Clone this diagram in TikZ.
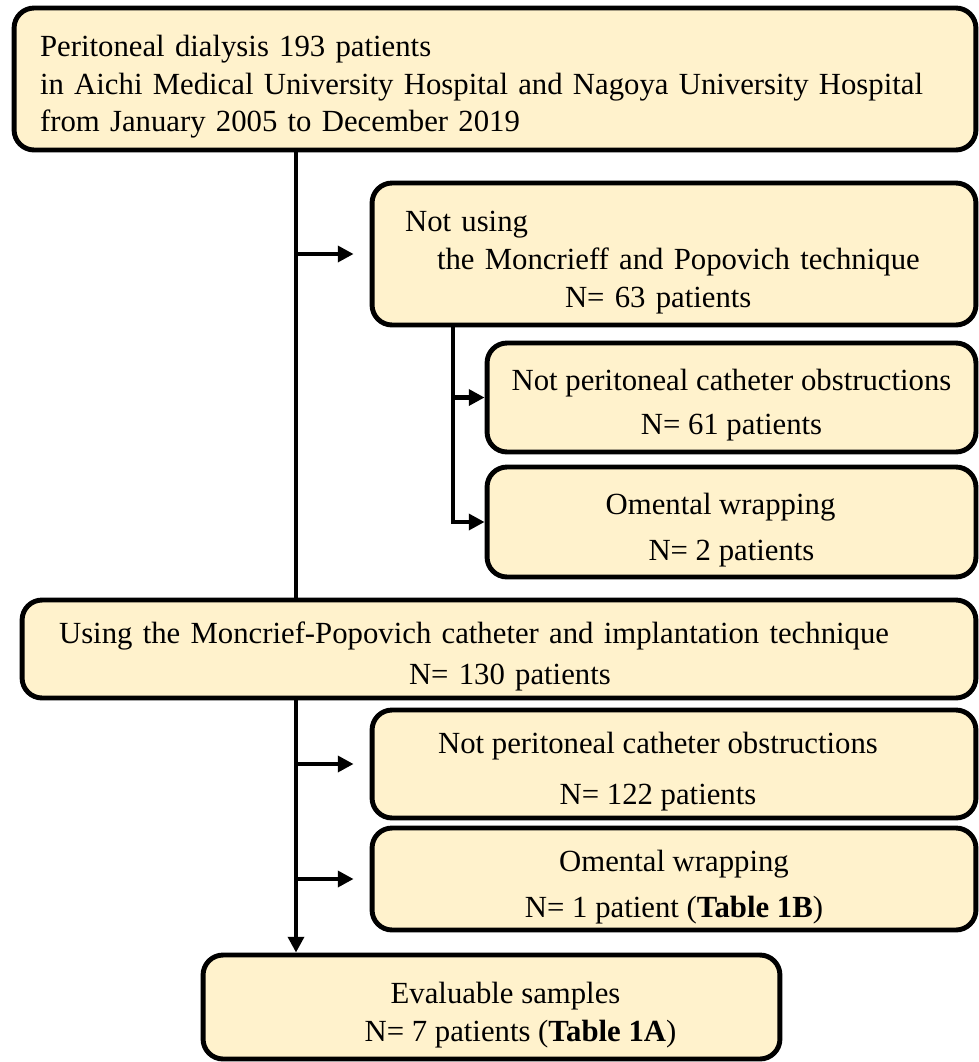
\documentclass[tikz,border=0pt]{standalone}
\usepackage{fontspec}
\setmainfont{Liberation Serif}
\usetikzlibrary{arrows.meta}
\definecolor{boxfill}{HTML}{FFF2CC}
\newcommand\lowtext{\rule{0pt}{0.74cm}}

\begin{document}
\begin{tikzpicture}[
    x=0.02cm, y=-0.02cm,
every box/.style={draw, line width=2.8pt, fill=boxfill, rounded corners=0.4cm, inner sep=0pt, font=\fontsize{17.5}{21.5}\selectfont},
link/.style={line width=2.6pt},
arr/.style={link, -{Triangle[length=9pt,width=9pt]}},
%gap/.style={shorten >=0.32cm},
]
\useasboundingbox (0,0) rectangle (978,1062);

\node[every box, minimum width=19.24cm, minimum height=2.84cm, inner xsep=0.52cm, text width=18.2cm, align=left] (src) at (495,79)
  {\lowtext Peritoneal dialysis 193 patients\\in Aichi Medical University Hospital and Nagoya University Hospital\\from January 2005 to December 2019};
\node[every box, minimum width=12.08cm, minimum height=2.84cm, inner xsep=0.66cm, text width=10.76cm, align=left] (notmp) at (674,254)
  {\lowtext Not using\\\hspace*{0.64cm}the Moncrieff and Popovich technique\\\hspace*{3.2cm}N= 63 patients};
\node[every box, minimum width=9.78cm, minimum height=2.18cm, align=center] (notobs1) at (731.5,397.5)
  {\lowtext Not peritoneal catheter obstructions\\[3.4pt]N= 61 patients};
\node[every box, minimum width=9.78cm, minimum height=2.2cm, align=center] (omental1) at (731.5,522)
  {\lowtext Omental wrapping\hspace*{0.44cm}\\[4.5pt]N= 2 patients};
\node[every box, minimum width=19.08cm, minimum height=1.96cm, inner xsep=0.74cm, text width=17.6cm, align=left] (usemp) at (499,649)
  {\lowtext Using the Moncrief-Popovich catheter and implantation technique\\[1.7pt]\hspace*{7cm}N= 130 patients};
\node[every box, minimum width=12.08cm, minimum height=2.16cm, align=center] (notobs2) at (674,764)
  {\lowtext Not peritoneal catheter obstructions\hspace*{0.64cm}\\[7.4pt]N= 122 patients\hspace*{0.64cm}};
\node[every box, minimum width=12.08cm, minimum height=2.04cm, align=center] (omental2) at (674,879)
  {\lowtext Omental wrapping\\[4.5pt]N= 1 patient (\textbf{Table 1B})};
\node[every box, minimum width=11.54cm, minimum height=2.08cm, align=center] (evalsamp) at (491.5,1007)
  {\lowtext\hspace*{0.56cm}Evaluable samples\\\hspace*{1.16cm}N= 7 patients (\textbf{Table 1A})};

\coordinate (tr) at (296,0);
\coordinate (br) at (453,0);
\draw[link] (src.south -| tr) -- (usemp.north -| tr);
\draw[arr, shorten >=0.32cm] (notmp.west -| tr) -- (notmp.west);
\draw[arr] (notmp.south -| br) |- (omental1.west);
\draw[arr] (notobs1.west -| br) -- (notobs1.west);
\draw[arr] (usemp.south -| tr) -- (evalsamp.north -| tr);
\draw[arr, shorten >=0.32cm] (notobs2.west -| tr) -- (notobs2.west);
\draw[arr, shorten >=0.32cm] (omental2.west -| tr) -- (omental2.west);
\end{tikzpicture}
\end{document}
